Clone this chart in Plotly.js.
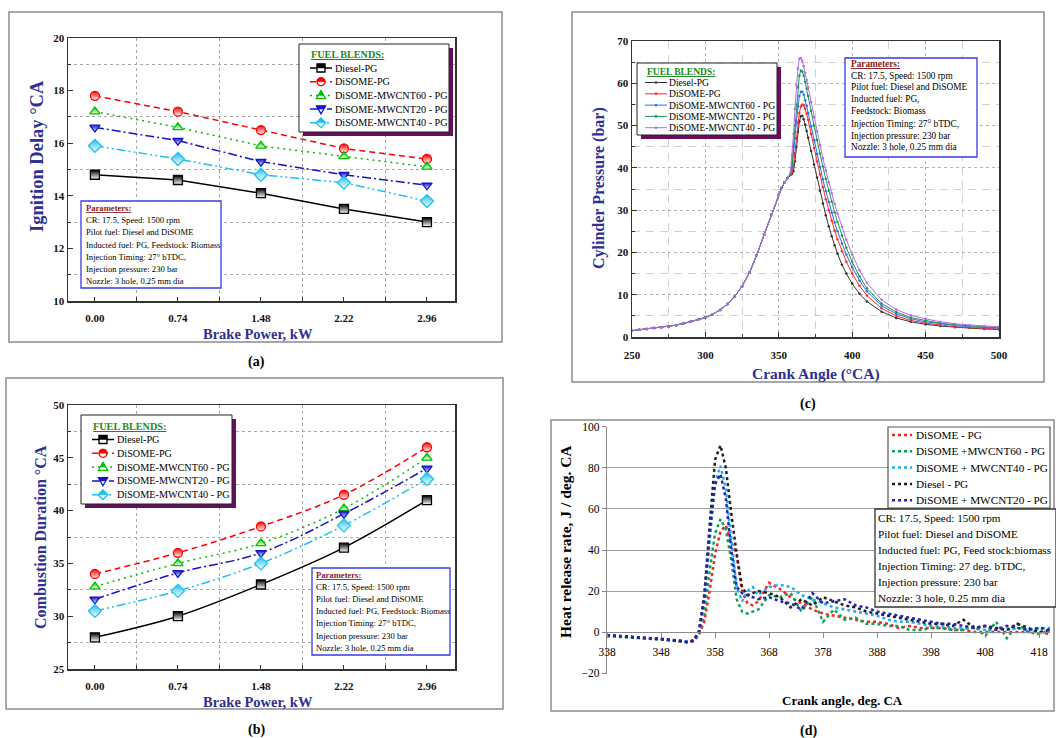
<!DOCTYPE html>
<html><head><meta charset="utf-8">
<script src="https://cdn.plot.ly/plotly-3.0.1.min.js"></script>
<style>html,body{margin:0;padding:0;background:#fff;} #chart{width:1056px;height:738px;}</style>
</head><body><div id="chart"></div>
<script>
// ================= DATA =================
// (a) & (b) : x categories
const brakePower = [0, 0.74, 1.48, 2.22, 2.96];
const brakePowerLabels = ['0.00', '0.74', '1.48', '2.22', '2.96'];
const blendNames = ['Diesel-PG', 'DiSOME-PG', 'DiSOME-MWCNT60 - PG', 'DiSOME-MWCNT20 - PG', 'DiSOME-MWCNT40 - PG'];

// (a) Ignition delay, °CA
const idDiesel = [14.8, 14.6, 14.1, 13.5, 13.0];
const idDisome = [17.8, 17.2, 16.5, 15.8, 15.4];
const idMw60   = [17.2, 16.6, 15.9, 15.5, 15.1];
const idMw20   = [16.6, 16.1, 15.3, 14.8, 14.4];
const idMw40   = [15.9, 15.4, 14.8, 14.5, 13.8];

// (b) Combustion duration, °CA
const cdDiesel = [28.0, 30.0, 33.0, 36.5, 41.0];
const cdDisome = [34.0, 36.0, 38.5, 41.5, 46.0];
const cdMw60   = [32.8, 35.0, 36.9, 40.2, 45.0];
const cdMw20   = [31.6, 34.1, 36.0, 39.7, 44.0];
const cdMw40   = [30.5, 32.4, 35.0, 38.6, 43.0];

// (c) Cylinder pressure, bar — common compression part
const caCompression = [250,255,260,265,270,275,280,285,290,295,300,305,310,315,320,325,330,335,340,345,350,352,354,356];
const pCompression  = [1.5,1.7,1.9,2.1,2.3,2.5,2.8,3.2,3.6,4.1,4.6,5.4,6.4,7.8,9.6,12.0,15.2,19.4,24.2,29.0,33.6,35.3,36.6,37.6];
// combustion / expansion part
const caCombustion = [358,359,360,361,362,363,364,365,366,367,368,369,370,372,374,376,378,380,382,384,386,388,390,393,396,400,405,410,420,430,440,450,460,470,480,490,500];
const pDiesel = [38.3,38.6,39.2,41.5,45,48.5,51,52.2,52.3,51.5,50.2,48.7,47.1,44,40.8,37.7,34.6,31.6,28.8,26.2,23.8,21.7,19.7,17.1,15,12.6,10.2,8.4,6,4.5,3.6,3,2.6,2.3,2.1,1.9,1.8];
const pDisome = [38.4,39,40.5,43.5,47,50.5,53,54.5,55,54.8,54,52.8,51.3,48,44.7,41.5,38.4,35.4,32.6,30,27.5,25.2,23.1,20.3,17.8,15,12.1,9.8,6.8,5,3.9,3.3,2.8,2.4,2.2,2,1.9];
const pMw60   = [38.5,40,43,47,51,54.5,57,58,58,57.3,56,54.6,53,49.8,46.5,43.3,40.2,37.3,34.5,31.9,29.4,27.1,25,22.1,19.5,16.5,13.3,10.8,7.4,5.5,4.3,3.6,3.1,2.7,2.4,2.2,2.1];
const pMw20   = [38.6,41,45,50,55,59,61.8,63,62.8,61.8,60.3,58.7,57,53.5,50,46.6,43.4,40.3,37.4,34.6,32,29.5,27.2,24,21.1,17.8,14.3,11.5,7.9,5.9,4.6,3.9,3.3,2.9,2.6,2.4,2.2];
const pMw40   = [39,43,48,54,59.5,63.5,65.8,66,65.3,64,62.5,60.8,59,55.5,52,48.6,45.4,42.3,39.4,36.6,34,31.5,29.2,26,23,19.5,15.8,12.8,8.8,6.5,5.1,4.3,3.6,3.1,2.8,2.6,2.4];

// (d) Heat release rate, J/deg CA
const hrrAngle = [338,340,342,344,346,348,350,352,353,354,355,356,357,358,359,360,361,362,363,364,365,366,368,370,372,374,376,378,380,382,384,386,388,390,392,394,396,398,400,402,404,406,408,410,412,414,416,418,420];
const hrrDisome = [-1.5,-2,-2.5,-2.8,-3.2,-3.5,-4,-4.5,-5,-4.5,-1.5,5,20,38,49,52,44,38,20,14,13,15,24,21,17,14,11,9,8,7,6,5,5,4,2,3,2,2,2,1,1,0,0,0,0,0,0,0,-1];
const hrrMw60   = [-2,-2.3,-2.6,-3,-3.2,-3.5,-4,-4.5,-4.8,-4,-1,8,30,48,55,50,35,16,10,9,10,11,18,17,19,10,17,5,11,6,7,4,4,3,3,1,1,2,2,1,1,3,-2,5,-3,4,0,-1,1];
const hrrMw40   = [-1.5,-2,-2.3,-2.7,-3,-3.3,-3.8,-4.3,-4.8,-4,0,15,45,73,81,70,45,22,15,20,22,18,22,23,22,18,16,14,12,11,10,9,8,6,5,5,4,3,3,2,2,2,1,2,1,2,1,2,2];
const hrrDiesel = [-1.5,-2,-2.5,-2.8,-3,-3.4,-3.8,-4.5,-5,-4,0,18,52,84,91,80,58,38,22,18,19,20,19,17,12,16,13,17,15,13,12,10,9,8,7,6,5,4,4,3,6,2,3,2,1,4,2,0,1];
const hrrMw20   = [-1.5,-1.8,-2.2,-2.6,-3,-3.3,-3.8,-4.3,-5,-4,0,16,48,72,77,65,40,22,19,18,17,16,17,15,14,11,19,14,15,16,13,12,10,9,8,7,6,5,4,4,3,2,3,1,3,2,1,2,1];
const hrrNames = ['DiSOME - PG', 'DiSOME +MWCNT60 - PG', 'DiSOME + MWCNT40 - PG', 'Diesel - PG', 'DiSOME + MWCNT20 - PG'];

const paramsAB = ['CR: 17.5, Speed: 1500 rpm', 'Pilot fuel: Diesel and DiSOME', 'Inducted fuel: PG, Feedstock: Biomass', 'Injection Timing: 27° bTDC,', 'Injection pressure: 230 bar', 'Nozzle: 3 hole, 0.25 mm dia'];
const paramsC = ['CR: 17.5, Speed: 1500 rpm', 'Pilot fuel: Diesel and DiSOME', 'Inducted fuel: PG,', 'Feedstock: Biomass', 'Injection Timing: 27° bTDC,', 'Injection pressure: 230 bar', 'Nozzle: 3 hole, 0.25 mm dia'];
const paramsD = ['CR: 17.5, Speed: 1500 rpm', 'Pilot fuel: Diesel and DiSOME', 'Inducted fuel: PG, Feed stock:biomass', 'Injection Timing: 27 deg. bTDC,', 'Injection pressure: 230 bar', 'Nozzle: 3 hole, 0.25 mm dia'];

// ================= STYLE / LAYOUT HELPERS =================
const W = 1056, H = 738;
const px = x => x / W;
const py = y => 1 - y / H;
const SERIF = 'Liberation Serif, Times New Roman, serif';
const NAVY = '#2e3192';
const GREENT = '#1a8a1a';
const DARKRED = '#8b1a1a';
const PBLUE = '#3b3be0';
const SHADOW = '#6a0d5f';

const colAB = ['#000000', '#ff0000', '#00c000', '#1414c8', '#1ec0ee'];
const symAB = ['square', 'circle', 'triangle-up', 'triangle-down', 'diamond'];
const dashAB = ['solid', '6px,4px', '2px,4px', '9px,3px,2px,3px', '9px,3px,2px,3px,2px,3px'];
const colC = ['#333333', '#ff2a2a', '#2b72e6', '#169a50', '#b56be6'];
const colD = ['#ff2020', '#10a050', '#1eb0f0', '#202020', '#2424b4'];

const traces = [];
const idSeries = [idDiesel, idDisome, idMw60, idMw20, idMw40];
const cdSeries = [cdDiesel, cdDisome, cdMw60, cdMw20, cdMw40];

function abTrace(ys, i, xa, ya, shape) {
  return {
    type: 'scatter', mode: 'lines+markers', x: brakePower, y: ys, xaxis: xa, yaxis: ya,
    name: blendNames[i], showlegend: false, hoverinfo: 'skip',
    line: {color: colAB[i], width: 1.5, dash: dashAB[i], shape: shape},
    marker: {symbol: symAB[i], size: i === 4 ? 10 : 9, color: colAB[i],
             line: {color: colAB[i], width: 1.3},
             gradient: {type: 'vertical', color: '#ffffff'}}
  };
}
idSeries.forEach((ys, i) => traces.push(abTrace(ys, i, 'x', 'y', 'linear')));
cdSeries.forEach((ys, i) => traces.push(abTrace(ys, i, 'x2', 'y2', 'spline')));

const pSeries = [pDiesel, pDisome, pMw60, pMw20, pMw40];
pSeries.forEach((ys, i) => traces.push({
  type: 'scatter', mode: 'lines+markers', xaxis: 'x3', yaxis: 'y3',
  x: caCompression.concat(caCombustion), y: pCompression.concat(ys),
  name: blendNames[i], showlegend: false, hoverinfo: 'skip',
  line: {color: colC[i], width: 1}, marker: {size: 2.5, color: colC[i]}
}));

const hSeries = [hrrDisome, hrrMw60, hrrMw40, hrrDiesel, hrrMw20];
hSeries.forEach((ys, i) => traces.push({
  type: 'scatter', mode: 'lines', xaxis: 'x4', yaxis: 'y4', x: hrrAngle, y: ys,
  name: hrrNames[i], showlegend: false, hoverinfo: 'skip',
  line: {color: colD[i], width: 2.5, dash: 'dot'}
}));

// ---------- shapes & annotations ----------
const shapes = [];
const ann = [];
function rectPx(x0, y0, x1, y1, o) {
  shapes.push(Object.assign({type: 'rect', xref: 'paper', yref: 'paper', x0: px(x0), x1: px(x1), y0: py(y1), y1: py(y0), layer: 'above'}, o));
}
function linePx(x0, y0, x1, y1, o) {
  shapes.push(Object.assign({type: 'line', xref: 'paper', yref: 'paper', x0: px(x0), x1: px(x1), y0: py(y0), y1: py(y1), layer: 'above'}, o));
}
function text(x, y, t, o) {
  ann.push(Object.assign({xref: 'paper', yref: 'paper', x: px(x), y: py(y), text: t, showarrow: false,
    xanchor: 'left', yanchor: 'middle', borderpad: 0, font: {family: SERIF, size: 12, color: '#000'}}, o));
}
function symPoly(sym, r) {
  if (sym === 'square') return [[-r, -r], [r, -r], [r, r], [-r, r]];
  if (sym === 'circle') { const p = []; for (let k = 0; k < 24; k++) { const a = 2 * Math.PI * k / 24; p.push([r * Math.cos(a), r * Math.sin(a)]); } return p; }
  if (sym === 'triangle-up') return [[0, r * 1.2], [r * 1.15, -r * 0.8], [-r * 1.15, -r * 0.8]];
  if (sym === 'triangle-down') return [[0, -r * 1.2], [r * 1.15, r * 0.8], [-r * 1.15, r * 0.8]];
  return [[0, r * 1.35], [r * 1.35, 0], [0, -r * 1.35], [-r * 1.35, 0]];
}
function clipTop(poly) {
  const out = [];
  for (let k = 0; k < poly.length; k++) {
    const a = poly[k], b = poly[(k + 1) % poly.length];
    const ain = a[1] >= 0, bin = b[1] >= 0;
    if (ain) out.push(a);
    if (ain !== bin) { const t = a[1] / (a[1] - b[1]); out.push([a[0] + t * (b[0] - a[0]), 0]); }
  }
  return out;
}
const pathOf = poly => 'M' + poly.map(p => p[0].toFixed(2) + ',' + p[1].toFixed(2)).join('L') + 'Z';
function markerSample(sym, cx, cy, r, color) {
  const poly = symPoly(sym, r);
  const base = {type: 'path', xref: 'paper', yref: 'paper', xsizemode: 'pixel', ysizemode: 'pixel', xanchor: px(cx), yanchor: py(cy), layer: 'above'};
  shapes.push(Object.assign({}, base, {path: pathOf(poly), fillcolor: '#ffffff', line: {color: color, width: 1.3}}));
  shapes.push(Object.assign({}, base, {path: pathOf(clipTop(poly)), fillcolor: color, line: {color: color, width: 0.5}}));
}

// outer frames
const frameStyle = {line: {color: '#8c8c8c', width: 1.5}, fillcolor: 'rgba(0,0,0,0)', layer: 'below'};
rectPx(9, 12, 502, 342, frameStyle);
rectPx(6, 378, 503, 709, frameStyle);
rectPx(572, 12, 1044, 382, frameStyle);
rectPx(551, 420, 1054, 711, frameStyle);

// panel labels
[['(a)', 256, 362], ['(b)', 256, 730], ['(c)', 808, 404], ['(d)', 808, 731]].forEach(l =>
  text(l[1], l[2], l[0], {xanchor: 'center', font: {family: SERIF, size: 14, color: '#000', weight: 'bold'}}));

// axis titles
const tNavy = s => ({family: SERIF, size: s, color: NAVY, weight: 'bold'});
text(37, 156, 'Ignition Delay °CA', {xanchor: 'center', textangle: -90, font: tNavy(18.5)});
text(258, 334, 'Brake Power, kW', {xanchor: 'center', font: tNavy(14.5)});
text(40, 537, 'Combustion Duration °CA', {xanchor: 'center', textangle: -90, font: tNavy(16)});
text(258, 702, 'Brake Power, kW', {xanchor: 'center', font: tNavy(14.5)});
text(599, 188, 'Cylinder Pressure (bar)', {xanchor: 'center', textangle: -90, font: tNavy(16)});
text(816, 374, 'Crank Angle (°CA)', {xanchor: 'center', font: tNavy(15.5)});
text(565, 542, 'Heat release rate, J / deg. CA', {xanchor: 'center', textangle: -90, font: {family: SERIF, size: 15.5, color: '#000', weight: 'bold'}});
text(842, 700, 'Crank angle, deg. CA', {xanchor: 'center', font: {family: SERIF, size: 13, color: '#000', weight: 'bold'}});

// legends for (a) and (b)
function legendAB(bx0, by0, bx1, by1, titleY, rowY0, rowStep, lineX0, fontSize) {
  rectPx(bx0 + 4, by0 + 4, bx1 + 4, by1 + 4, {fillcolor: SHADOW, line: {width: 0}});
  rectPx(bx0, by0, bx1, by1, {fillcolor: '#ffffff', line: {color: '#222', width: 1}});
  text(lineX0, titleY, '<b><u>FUEL BLENDS:</u></b>', {font: {family: SERIF, size: fontSize, color: GREENT}});
  blendNames.forEach((nm, i) => {
    const y = rowY0 + i * rowStep;
    linePx(lineX0, y, lineX0 + 22, y, {line: {color: colAB[i], width: 1.5, dash: dashAB[i]}});
    markerSample(symAB[i], lineX0 + 11, y, i === 4 ? 3.6 : 4, colAB[i]);
    text(lineX0 + 24, y, nm, {font: {family: SERIF, size: fontSize, color: '#000'}});
  });
}
legendAB(299, 44, 449, 132, 54.5, 68, 13.7, 310, 10.2);
legendAB(81, 415, 232, 504, 426, 439.5, 13.8, 92, 10.2);

// legend (c)
rectPx(641, 67, 781, 139, {fillcolor: SHADOW, line: {width: 0}});
rectPx(637, 63, 777, 135, {fillcolor: '#ffffff', line: {color: '#222', width: 1}});
text(646, 71.5, '<b><u>FUEL BLENDS:</u></b>', {font: {family: SERIF, size: 9.5, color: GREENT}});
blendNames.forEach((nm, i) => {
  const y = 82.5 + i * 11.3;
  linePx(645, y, 667, y, {line: {color: colC[i], width: 1}});
  shapes.push({type: 'circle', xref: 'paper', yref: 'paper', xsizemode: 'pixel', ysizemode: 'pixel',
    xanchor: px(656), yanchor: py(y), x0: -1.3, x1: 1.3, y0: -1.3, y1: 1.3, fillcolor: colC[i], line: {width: 0}, layer: 'above'});
  text(668, y, nm, {font: {family: SERIF, size: 9.6, color: '#000'}});
});

// legend (d)
rectPx(888, 427, 1050, 508, {fillcolor: '#ffffff', line: {color: '#555', width: 1.2}});
hrrNames.forEach((nm, i) => {
  const y = 435 + i * 16.3;
  linePx(892, y, 912, y, {line: {color: colD[i], width: 2.5, dash: 'dot'}});
  text(915, y, nm, {font: {family: SERIF, size: 11.2, color: '#000'}});
});

// parameter boxes (one annotation per line)
function paramBox(bx0, by0, bx1, by1, lines, size, titled, border, textX, lineYs) {
  rectPx(bx0, by0, bx1, by1, {fillcolor: '#ffffff', line: {color: border, width: 1.3}});
  const all = (titled ? ['<b><u>Parameters:</u></b>'] : []).concat(lines);
  all.forEach((t, k) => text(textX, lineYs[k], t, {font: {family: SERIF, size: size, color: (titled && k === 0) ? DARKRED : '#000'}}));
}
paramBox(81, 201, 221, 288, paramsAB, 8.6, true, PBLUE, 85, [207.5, 220, 232.3, 244.5, 256.8, 269, 281.2]);
paramBox(312, 568, 450, 655, paramsAB, 8.6, true, PBLUE, 314.5, [574.5, 586.8, 598.8, 610.8, 623.2, 635.6, 647.8]);
paramBox(845, 58, 977, 157, paramsC, 9.3, true, PBLUE, 849.5, [63.5, 75.7, 87.3, 99, 110.7, 124, 135.7, 147.3]);
paramBox(875, 509, 1056, 607, paramsD, 11.2, false, '#333', 876.5, [518.3, 534.3, 550, 566, 581.7, 597.7]);

// ---------- axes ----------
const tickBold = {family: SERIF, size: 11, color: '#111', weight: 'bold'};
const midTicks = brakePower.slice(1).map((v, k) => (v + brakePower[k]) / 2);
function xAB(dom, anchor) {
  return {domain: dom, anchor: anchor, range: [-0.24, 3.21], tickmode: 'array', tickvals: brakePower, ticktext: brakePowerLabels,
    tickfont: tickBold, showgrid: false, zeroline: false, showline: true, mirror: true, linecolor: '#333', linewidth: 1.5,
    ticks: 'inside', ticklen: 4, tickcolor: '#333', ticklabelstandoff: 6,
    minor: {tickmode: 'array', tickvals: midTicks, showgrid: true, gridcolor: '#a8a8a8', griddash: 'dot', gridwidth: 1, ticks: 'inside', ticklen: 4, tickcolor: '#333'}};
}
function yAB(dom, anchor, range, dt) {
  return {domain: dom, anchor: anchor, range: range, tick0: range[0], dtick: dt, tickfont: tickBold,
    showgrid: false, zeroline: false, showline: true, mirror: true, linecolor: '#333', linewidth: 1.5,
    ticks: 'inside', ticklen: 5, tickcolor: '#333',
    minor: {dtick: dt / 2, tick0: range[0], showgrid: true, gridcolor: '#a8a8a8', griddash: 'dot', gridwidth: 1, ticks: 'inside', ticklen: 3, tickcolor: '#333'}};
}

const layout = {
  width: W, height: H, margin: {l: 0, r: 0, t: 0, b: 0}, paper_bgcolor: '#ffffff', plot_bgcolor: '#ffffff',
  showlegend: false, font: {family: SERIF, color: '#000'},
  xaxis: xAB([px(68), px(455)], 'y'),
  yaxis: yAB([py(301), py(38)], 'x', [10, 20], 2),
  xaxis2: xAB([px(68), px(455)], 'y2'),
  yaxis2: yAB([py(669), py(405)], 'x2', [25, 50], 5),
  xaxis3: {domain: [px(632), px(999)], anchor: 'y3', range: [250, 500], dtick: 50, tick0: 250, tickfont: tickBold,
    showgrid: true, gridcolor: '#b4b4b4', griddash: 'dot', zeroline: false, showline: true, mirror: true, linecolor: '#333', linewidth: 1.5,
    ticks: 'inside', ticklen: 5, tickcolor: '#333', ticklabelstandoff: 7,
    minor: {dtick: 25, tick0: 250, showgrid: true, gridcolor: '#d0d0d0', griddash: '8px,6px', ticks: 'inside', ticklen: 3, tickcolor: '#333'}},
  yaxis3: {domain: [py(337), py(41)], anchor: 'x3', range: [0, 70], dtick: 10, tick0: 0, tickfont: tickBold,
    showgrid: true, gridcolor: '#b4b4b4', griddash: 'dot', zeroline: false, showline: true, mirror: true, linecolor: '#333', linewidth: 1.5,
    ticks: 'inside', ticklen: 5, tickcolor: '#333',
    minor: {dtick: 5, tick0: 0, showgrid: true, gridcolor: '#d0d0d0', griddash: '8px,6px', ticks: 'inside', ticklen: 3, tickcolor: '#333'}},
  xaxis4: {domain: [px(607), px(1050)], anchor: 'free', position: py(632), range: [338, 420], tick0: 338, dtick: 10,
    tickfont: {family: SERIF, size: 11.5, color: '#000'}, showgrid: false, zeroline: false, showline: true, linecolor: '#8a8a8a', linewidth: 1.3,
    ticks: 'outside', ticklen: 5, tickcolor: '#8a8a8a', ticklabelstandoff: 4},
  yaxis4: {domain: [py(673.5), py(426.5)], anchor: 'x4', range: [-20.2, 100.2], tick0: -20, dtick: 20,
    tickfont: {family: SERIF, size: 11.5, color: '#000'}, showgrid: true, gridcolor: '#a0a0a0', gridwidth: 1, zeroline: false,
    showline: true, linecolor: '#8a8a8a', linewidth: 1.3, ticks: 'outside', ticklen: 4, tickcolor: '#8a8a8a'},
  shapes: shapes,
  annotations: ann
};

Plotly.newPlot('chart', traces, layout, {displayModeBar: false, staticPlot: true});
</script>
</body></html>
